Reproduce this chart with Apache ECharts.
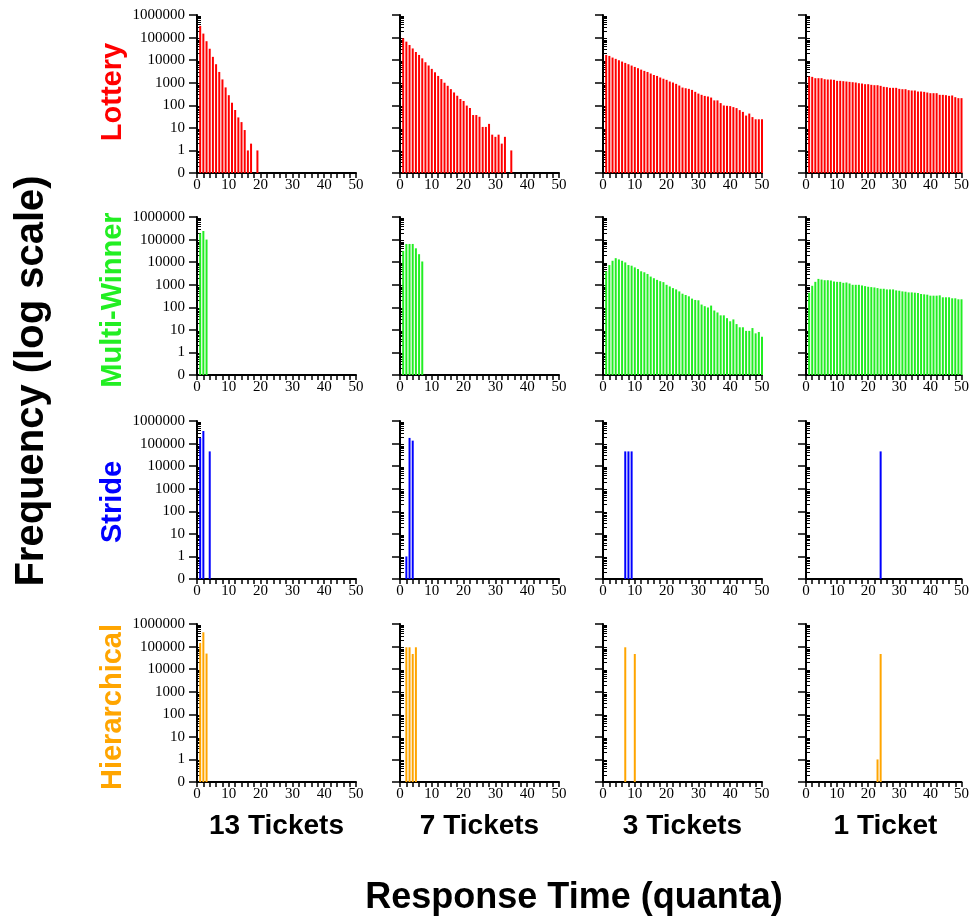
<!DOCTYPE html>
<html>
<head>
<meta charset="utf-8">
<script src="https://cdn.jsdelivr.net/npm/echarts@6/dist/echarts.min.js"></script>
<style>
html, body { margin: 0; padding: 0; background: #fff; }
#chart { width: 972px; height: 920px; }
</style>
</head>
<body>
<div id="chart"></div>
<script>
// rows: schedulers, columns: tickets held by the client
var schedulers = ['Lottery', 'Multi-Winner', 'Stride', 'Hierarchical'];
var schedulerColors = ['#ff0000', '#22ee22', '#0000ff', '#ffa500'];
var ticketLabels = ['13 Tickets', '7 Tickets', '3 Tickets', '1 Ticket'];
var yTickValues = [0.1, 1, 10, 100, 1000, 10000, 100000, 1000000];

// frequency for response time 1, 2, 3, ... quanta
var lottery13 = [330000, 150000, 69000, 32000, 14000, 6600, 3000, 1400, 620, 280,
    130, 62, 29, 18, 8, 1, 2, 0, 1];
var lottery7 = [93000, 66000, 47000, 33000, 23000, 17000, 12000, 8100, 5800, 4100,
    2900, 2000, 1450, 1000, 730, 520, 370, 265, 190, 155,
    97, 76, 37, 37, 31, 11, 11, 15, 5, 4,
    5, 2, 4, 0, 1];
var lottery3 = [17000, 15400, 13000, 11400, 9900, 8650, 7550, 6600, 5750, 5000,
    4400, 3800, 3350, 3000, 2550, 2200, 2000, 1700, 1500, 1340,
    1130, 1020, 890, 750, 610, 570, 535, 480, 395, 330,
    290, 260, 245, 220, 165, 165, 125, 98, 95, 92,
    83, 75, 61, 51, 35, 43, 30, 24, 24, 24];
var lottery1 = [1880, 1815, 1585, 1585, 1585, 1430, 1385, 1385, 1340, 1210,
    1210, 1170, 1130, 1090, 1055, 1020, 950, 920, 860, 860,
    805, 777, 777, 726, 656, 634, 593, 593, 593, 535,
    517, 517, 467, 452, 452, 408, 408, 394, 368, 344,
    344, 344, 290, 290, 281, 262, 272, 229, 207, 207];

var multi13 = [190000, 240000, 100000];
var multi7 = [31500, 64000, 64000, 64000, 41000, 22500, 10700];
var multi3 = [3930, 7430, 11500, 15000, 13200, 11500, 9720, 7430, 6950, 5870,
    4960, 3930, 3550, 3000, 2290, 1940, 1640, 1430, 1300, 990,
    838, 708, 619, 506, 400, 350, 306, 242, 211, 204,
    132, 112, 98, 119, 72, 59, 44, 44, 33, 24,
    29, 18, 13, 13, 9, 9, 12, 7, 8, 5];
var multi1 = [443, 896, 1340, 1810, 1690, 1585, 1585, 1535, 1387, 1340,
    1340, 1211, 1253, 1133, 990, 990, 990, 927, 866, 810,
    783, 757, 708, 662, 662, 619, 619, 619, 560, 541,
    506, 490, 457, 457, 443, 428, 387, 374, 362, 327,
    327, 327, 338, 277, 277, 277, 250, 250, 226, 226];

var stride13 = [175000, 360000, 0, 45000];
var stride7 = [0, 1, 178000, 135000];
var stride3 = [0, 0, 0, 0, 0, 0, 45000, 45000, 45000];
var stride1 = [0, 0, 0, 0, 0, 0, 0, 0, 0, 0,
    0, 0, 0, 0, 0, 0, 0, 0, 0, 0,
    0, 0, 0, 45000];

var hier13 = [145000, 430000, 49000];
var hier7 = [0, 93000, 93000, 47000, 93000];
var hier3 = [0, 0, 0, 0, 0, 0, 93000, 0, 0, 47000];
var hier1 = [0, 0, 0, 0, 0, 0, 0, 0, 0, 0,
    0, 0, 0, 0, 0, 0, 0, 0, 0, 0,
    0, 0, 1, 47000];

var panels = [
    [lottery13, lottery7, lottery3, lottery1],
    [multi13, multi7, multi3, multi1],
    [stride13, stride7, stride3, stride1],
    [hier13, hier7, hier3, hier1]
];

// log minor ticks 2..9 in every decade
var yMinorValues = [];
for (var d = -1; d < 6; d++) {
    for (var m = 2; m < 10; m++) {
        yMinorValues.push(m * Math.pow(10, d));
    }
}

var gridLefts = [197, 400, 603, 806];
var gridTops = [15, 217, 421, 624];
var serif = '"Liberation Serif", "DejaVu Serif", serif';
var sans = '"Liberation Sans", Arial, sans-serif';

var myChart = echarts.init(document.getElementById('chart'));

var grids = [], xAxes = [], yAxes = [], series = [];
for (var r = 0; r < 4; r++) {
    for (var c = 0; c < 4; c++) {
        var i = r * 4 + c;
        grids.push({left: gridLefts[c], top: gridTops[r], width: 159, height: 158});
        xAxes.push({
            type: 'value', gridIndex: i, min: 0, max: 50, interval: 10,
            axisLine: {onZero: false, lineStyle: {color: '#000', width: 2}},
            axisTick: {length: 5, lineStyle: {color: '#000', width: 1.5}},
            minorTick: {show: true, splitNumber: 5, length: 5, lineStyle: {color: '#000', width: 1.5}},
            axisLabel: {fontFamily: serif, fontSize: 15, color: '#000', margin: 5},
            splitLine: {show: false}
        });
        yAxes.push({
            type: 'log', gridIndex: i, min: 0.1, max: 1000000, startValue: 0.1,
            axisLine: {show: true, onZero: false, lineStyle: {color: '#000', width: 2}},
            axisTick: {show: true, length: 8, customValues: yTickValues, lineStyle: {color: '#000', width: 1.5}},
            axisLabel: {
                show: c === 0, customValues: yTickValues, margin: 12,
                fontFamily: serif, fontSize: 15, color: '#000',
                formatter: function (v) { return v < 0.5 ? '0' : String(Math.round(v)); }
            },
            splitLine: {show: false}
        });
        yAxes.push({
            type: 'log', gridIndex: i, min: 0.1, max: 1000000,
            axisLine: {show: false},
            axisTick: {show: true, length: 4, customValues: yMinorValues, lineStyle: {color: '#000', width: 1}},
            axisLabel: {show: false},
            splitLine: {show: false}
        });
        var pts = [];
        panels[r][c].forEach(function (v, k) {
            if (v > 0) pts.push([k + 1, v]);
        });
        series.push({
            type: 'bar', xAxisIndex: i, yAxisIndex: 2 * i,
            data: pts, barWidth: 2, clip: false,
            itemStyle: {color: schedulerColors[r]}
        });
    }
}

var graphics = [];
var rowCenters = [92, 300, 502, 707];
schedulers.forEach(function (name, r) {
    graphics.push({
        type: 'text', x: 113, y: rowCenters[r], rotation: Math.PI / 2,
        style: {text: name, fill: schedulerColors[r], font: 'bold 29px ' + sans,
            align: 'center', verticalAlign: 'middle', textAlign: 'center', textVerticalAlign: 'middle'}
    });
});
ticketLabels.forEach(function (name, c) {
    graphics.push({
        type: 'text', x: gridLefts[c] + 79.5, y: 826,
        style: {text: name, fill: '#000', font: 'bold 28px ' + sans,
            align: 'center', verticalAlign: 'middle', textAlign: 'center', textVerticalAlign: 'middle'}
    });
});
graphics.push({
    type: 'text', x: 32, y: 381, rotation: Math.PI / 2,
    style: {text: 'Frequency (log scale)', fill: '#000', font: 'bold 40px ' + sans,
        align: 'center', verticalAlign: 'middle', textAlign: 'center', textVerticalAlign: 'middle'}
});
graphics.push({
    type: 'text', x: 574, y: 898,
    style: {text: 'Response Time (quanta)', fill: '#000', font: 'bold 36px ' + sans,
        align: 'center', verticalAlign: 'middle', textAlign: 'center', textVerticalAlign: 'middle'}
});

var option = {
    animation: false,
    backgroundColor: '#fff',
    grid: grids,
    xAxis: xAxes,
    yAxis: yAxes,
    series: series,
    graphic: graphics
};

myChart.setOption(option);
</script>
</body>
</html>
